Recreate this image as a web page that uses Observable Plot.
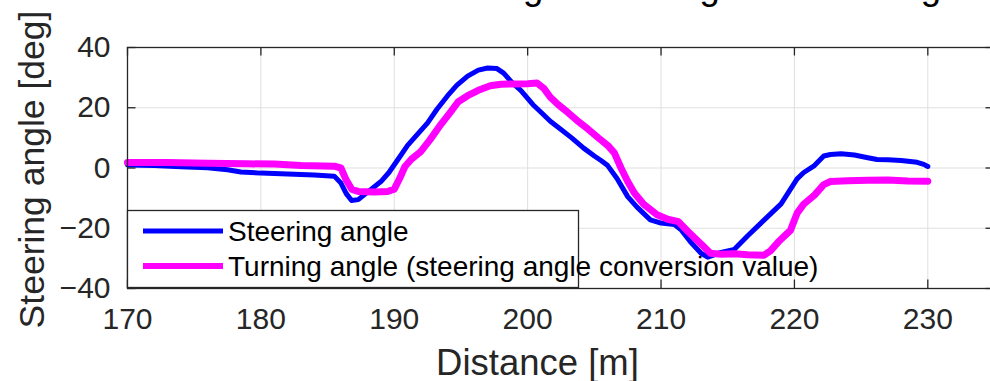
<!DOCTYPE html>
<html>
<head>
<meta charset="utf-8">
<script src="https://cdn.jsdelivr.net/npm/d3@7"></script>
<script src="https://cdn.jsdelivr.net/npm/@observablehq/plot@0.6"></script>
<style>
  html, body { margin: 0; padding: 0; background: #fff; overflow: hidden; }
  #chart { position: relative; width: 990px; height: 381px; overflow: hidden; }
</style>
</head>
<body>
<div id="chart"></div>
<script>
// ---- data ----
const distSteer = [170, 172, 174, 176, 177.5, 178.5, 180, 182, 184, 185.5, 186, 186.4, 186.8, 187.3, 188, 189, 189.6, 190.3, 191, 191.8, 192.5, 193.2, 194, 194.7, 195.5, 196.3, 197.0, 197.7, 198.2, 198.8, 199.5, 200.4, 201, 201.7, 202.5, 203.3, 204.2, 205, 205.5, 206, 206.7, 207.5, 208.2, 209.2, 210, 211, 211.5, 212.2, 213, 213.5, 214.5, 215.5, 216.5, 217.7, 219, 220.2, 220.7, 221.5, 222.2, 222.7, 223.5, 224.5, 225.5, 226.2, 227, 228, 229.2, 229.7, 230];
const steer     = [1.0, 0.8, 0.4, 0.1, -0.6, -1.3, -1.7, -2.0, -2.3, -2.7, -5.0, -8.5, -10.8, -10.5, -8.0, -4.5, -1.5, 3.0, 7.5, 11.5, 15.0, 19.5, 24.0, 27.5, 30.5, 32.5, 33.2, 33.0, 31.5, 28.5, 25.7, 21.0, 18.5, 15.5, 12.8, 10.0, 6.6, 4.0, 2.5, 0.8, -3.5, -9.5, -13.0, -17.2, -18.3, -18.8, -20.5, -24.5, -28.3, -29.6, -28.0, -27.0, -22.5, -17.4, -11.9, -3.6, -1.5, 0.8, 4.0, 4.5, 4.7, 4.3, 3.4, 2.8, 2.7, 2.5, 1.9, 1.2, 0.5];

const distTurn = [170, 173, 176, 179, 181, 183, 185.5, 186, 186.4, 186.8, 187.3, 188.5, 189.5, 190.0, 190.4, 190.8, 191.3, 192.0, 192.7, 193.5, 194.2, 194.8, 195.5, 196.3, 197.2, 198.0, 199.0, 200, 200.7, 201.2, 201.7, 202.3, 203, 203.7, 204.5, 205.3, 206, 206.5, 207, 207.5, 208, 208.7, 209.7, 210.5, 211.3, 212.0, 213.0, 213.7, 214.5, 215.5, 216.5, 217.7, 218.2, 218.8, 219.7, 220.2, 220.7, 221.5, 222.2, 222.7, 224, 225.5, 227, 228.5, 230];
const turn     = [1.8, 1.8, 1.6, 1.4, 1.3, 0.8, 0.6, 0.0, -4.0, -7.0, -7.8, -8.0, -7.8, -7.0, -3.5, 0.5, 3.0, 5.5, 9.5, 14.5, 18.5, 22.0, 24.0, 25.8, 27.3, 27.8, 27.9, 28.0, 28.2, 26.5, 23.5, 21.0, 18.5, 15.8, 13.0, 10.0, 7.5, 5.0, 0.0, -4.5, -8.3, -12.0, -15.5, -17.0, -17.8, -21.0, -25.2, -28.3, -28.6, -28.5, -28.8, -29.0, -27.5, -24.5, -20.7, -15.0, -12.0, -9.0, -5.5, -4.5, -4.2, -4.1, -4.0, -4.3, -4.4];

const xTicks = [170, 180, 190, 200, 210, 220, 230];
const yTicks = [-40, -20, 0, 20, 40];
const xDomain = [170, 235];
const yDomain = [-40, 40];

const titleText = "Steering wheel angle and turning angle";
const xLabel = "Distance [m]";
const yLabel = "Steering angle [deg]";
const seriesNames = ["Steering angle", "Turning angle (steering angle conversion value)"];
const seriesColors = ["#0000ff", "#ff00ff"];

// ---- build tables ----
const steerData = distSteer.map((d, i) => ({d, v: steer[i]}));
const turnData = distTurn.map((d, i) => ({d, v: turn[i]}));

// ---- layout ----
const W = 994, H = 381;
const mL = 127, mR = 0, mT = 47, mB = 93;
const fw = W - mL - mR, fh = H - mT - mB;
const tickLen = 8.5;
const axisColor = "#262626";
const gridColor = "#dfdfdf";
const font = "'Liberation Sans', Arial, Helvetica, sans-serif";

const plot = Plot.plot({
  width: W,
  height: H,
  marginLeft: mL,
  marginRight: mR,
  marginTop: mT,
  marginBottom: mB,
  style: {fontFamily: font, color: axisColor, background: "#fff", maxWidth: "none"},
  x: {domain: xDomain},
  y: {domain: yDomain},
  marks: [
    Plot.gridX(xTicks, {stroke: gridColor, strokeOpacity: 1, strokeWidth: 1}),
    Plot.gridY(yTicks, {stroke: gridColor, strokeOpacity: 1, strokeWidth: 1}),
    Plot.line(steerData, {x: "d", y: "v", stroke: seriesColors[0], strokeWidth: 5, strokeLinejoin: "round", strokeLinecap: "round"}),
    Plot.line(turnData, {x: "d", y: "v", stroke: seriesColors[1], strokeWidth: 7, strokeLinejoin: "round", strokeLinecap: "round"}),
    Plot.frame({stroke: axisColor, strokeWidth: 1.3}),
    Plot.tickX(xTicks, {x: d => d, stroke: axisColor, strokeWidth: 1.3, insetTop: fh - tickLen}),
    Plot.tickX(xTicks, {x: d => d, stroke: axisColor, strokeWidth: 1.3, insetBottom: fh - tickLen}),
    Plot.tickY(yTicks, {y: d => d, stroke: axisColor, strokeWidth: 1.3, insetRight: fw - tickLen}),
    Plot.tickY(yTicks, {y: d => d, stroke: axisColor, strokeWidth: 1.3, insetLeft: fw - tickLen}),
    Plot.axisX({ticks: xTicks, tickSize: 0, tickPadding: 19, fontSize: 30, label: null}),
    Plot.axisY({ticks: yTicks, tickSize: 0, tickPadding: 17, fontSize: 30, label: null}),
    Plot.text([yLabel], {text: d => d, frameAnchor: "left", rotate: -90, dx: -95, dy: 1.5, fontSize: 35.5, fill: axisColor, textAnchor: "middle", lineAnchor: "middle"}),
    Plot.text([xLabel], {text: d => d, frameAnchor: "bottom", dx: 537 - (mL + fw / 2), dy: 86, fontSize: 36.5, fill: axisColor, lineAnchor: "bottom"})
  ]
});

const svg = d3.select(plot);

// ---- title: only its descenders show at the top edge, as in the reference ----
svg.append("text")
  .attr("x", 407.4).attr("y", -1.5)
  .attr("text-anchor", "start")
  .attr("font-family", font).attr("font-size", 36.5).attr("fill", "#000")
  .text(titleText);

// ---- legend (drawn over the axes, as in the reference) ----
const lg = svg.append("g").attr("font-family", font).attr("text-anchor", "start");
lg.append("rect")
  .attr("x", 127.5).attr("y", 210.5).attr("width", 451).attr("height", 77)
  .attr("fill", "#fff").attr("stroke", axisColor).attr("stroke-width", 1.3);
seriesNames.forEach((name, i) => {
  const cy = 231 + i * 35;
  lg.append("line")
    .attr("x1", 143).attr("x2", 223).attr("y1", cy).attr("y2", cy)
    .attr("stroke", seriesColors[i]).attr("stroke-width", i === 0 ? 5 : 6);
  lg.append("text")
    .attr("x", 228).attr("y", cy + 10)
    .attr("text-anchor", "start")
    .attr("font-size", 28).attr("fill", "#000")
    .text(name);
});

document.getElementById("chart").appendChild(plot);
</script>
</body>
</html>
